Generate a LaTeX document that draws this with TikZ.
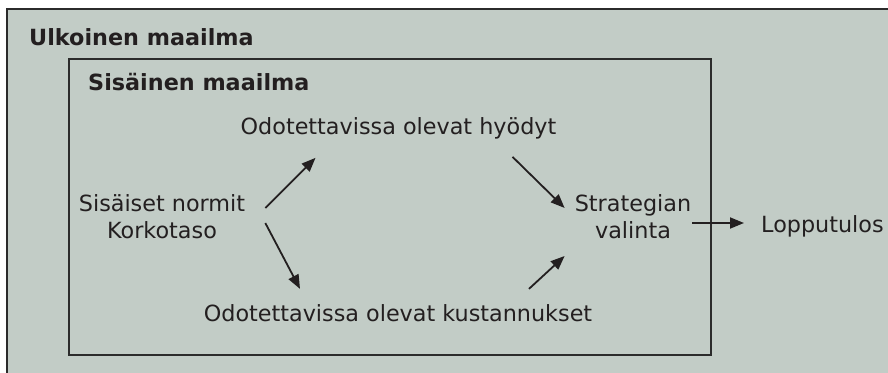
\documentclass[tikz,border=0pt]{standalone}
\usepackage{fontspec}
\setmainfont{DejaVu Sans}
\usetikzlibrary{arrows.meta,calc}
\definecolor{bgfill}{HTML}{C2CCC6}
\definecolor{ink}{HTML}{231F20}
\definecolor{frame}{HTML}{2B2B2B}
\tikzset{
  lbl/.style={inner sep=0pt, text=ink, font=\fontsize{22.3}{27}\selectfont},
  ttl/.style={inner sep=0pt, text=ink, font=\fontsize{22.3}{27}\selectfont\bfseries},
  arr/.style={draw=ink, line width=1.8pt, -{Triangle[length=14pt,width=11pt]}},
  box/.style={draw=frame, line width=2pt, fill=bgfill}
}
\begin{document}
\begin{tikzpicture}[x=1pt,y=1pt]
\useasboundingbox (0,0) rectangle (888,-372);
\begin{scope}
\clip (0,0) rectangle (888,-372);
\draw[box] (7,-9) rectangle (900,-400);
\end{scope}
\draw[box] (69,-59) rectangle (711,-355);
\node[ttl, anchor=base west] (ulk) at (29,-45) {Ulkoinen maailma};
\node[ttl, anchor=base west] (sis) at (88,-90) {Sisäinen maailma};
\node[lbl, anchor=base] (hyo) at (398.5,-134) {Odotettavissa olevat hyödyt};
\node[lbl, anchor=base] (kus) at (398,-321) {Odotettavissa olevat kustannukset};
\node[lbl, align=center, anchor=center] (norm) at (162,-217) {Sisäiset normit\\Korkotaso};
\node[lbl, align=center, anchor=center] (strat) at (633,-217) {Strategian\\valinta};
\node[lbl, anchor=base west] (lop) at (761,-232) {Lopputulos};
\draw[arr] ($(norm.east)+(20,9)$) -- ($(hyo.south)+(-83,-19)$);
\draw[arr] ($(norm.east)+(20,-6)$) -- ($(kus.north)+(-98,15)$);
\draw[arr] ($(hyo.south)+(114,-18)$) -- ($(strat.west)+(-10,9)$);
\draw[arr] ($(kus.north)+(131,15)$) -- ($(strat.west)+(-10,-39)$);
\coordinate (s5) at ($(strat.east)+(1,-6)$);
\draw[arr, shorten >=17pt] (s5) -- (s5 -| lop.west);
\end{tikzpicture}
\end{document}
